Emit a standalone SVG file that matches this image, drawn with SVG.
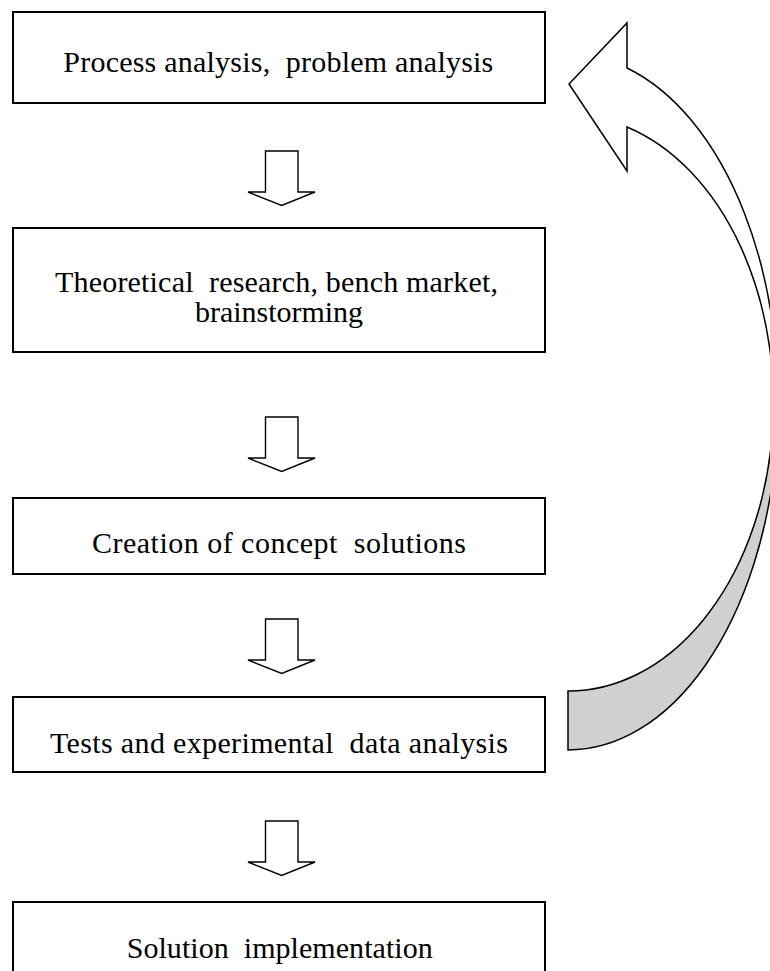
<svg xmlns="http://www.w3.org/2000/svg" xmlns:xlink="http://www.w3.org/1999/xlink" width="770" height="971" viewBox="0 0 770 971">
  <style>
    .box { fill: #ffffff; stroke: #000000; stroke-width: 2; }
    .lbl { font-family: "Liberation Serif", "Times New Roman", serif; font-size: 30px; fill: #000000; white-space: pre; }
    .blk { fill: #ffffff; stroke: #000000; stroke-width: 1.4; stroke-linejoin: miter; }
    .curve-fill { fill: #ffffff; stroke: none; }
    .curve-shade { fill: #d0d0d0; stroke: none; }
    .curve-line { fill: none; stroke: #000000; stroke-width: 1.5; stroke-linejoin: miter; }
  </style>
  <defs>
    <path id="downArrow" d="M265.5,0 H298 V41 H315 L281.7,54.5 L248,41 H265.5 Z"/>
  </defs>
  <rect width="770" height="971" fill="#ffffff"/>

  <g id="connectors">
    <use xlink:href="#downArrow" href="#downArrow" class="blk" transform="translate(0,151)"/>
    <use xlink:href="#downArrow" href="#downArrow" class="blk" transform="translate(0,417)"/>
    <use xlink:href="#downArrow" href="#downArrow" class="blk" transform="translate(0,619)"/>
    <use xlink:href="#downArrow" href="#downArrow" class="blk" transform="translate(0,821)"/>
    <g id="feedback-arrow">
      <path class="curve-fill" d="M568,750 A210,348 0 0 0 627,68 L627,23 L569,84 L627,171 L627,127 A205,288 0 0 1 568,691 Z"/>
      <path class="curve-shade" d="M568,750 A210,348 0 0 0 776,450 L770.25,450 A205,288 0 0 1 568,691 Z"/>
      <path class="curve-line" d="M568,750 A210,348 0 0 0 627,68 L627,23 L569,84 L627,171 L627,127 A205,288 0 0 1 568,691 Z"/>
    </g>
  </g>

  <g id="node1">
    <rect class="box" x="13" y="12" width="532" height="91"/>
    <text class="lbl" x="63.3" y="72" textLength="430" lengthAdjust="spacing">Process analysis,  problem analysis</text>
  </g>
  <g id="node2">
    <rect class="box" x="13" y="228" width="532" height="124"/>
    <text class="lbl" x="55" y="292" textLength="443" lengthAdjust="spacing">Theoretical  research, bench market,</text>
    <text class="lbl" x="195" y="322" textLength="168" lengthAdjust="spacing">brainstorming</text>
  </g>
  <g id="node3">
    <rect class="box" x="13" y="498" width="532" height="76"/>
    <text class="lbl" x="92" y="553" textLength="374" lengthAdjust="spacing">Creation of concept  solutions</text>
  </g>
  <g id="node4">
    <rect class="box" x="13" y="697" width="532" height="75"/>
    <text class="lbl" x="50" y="753" textLength="458" lengthAdjust="spacing">Tests and experimental  data analysis</text>
  </g>
  <g id="node5">
    <rect class="box" x="13" y="902" width="532" height="100"/>
    <text class="lbl" x="126.7" y="958" textLength="306" lengthAdjust="spacing">Solution  implementation</text>
  </g>
</svg>
